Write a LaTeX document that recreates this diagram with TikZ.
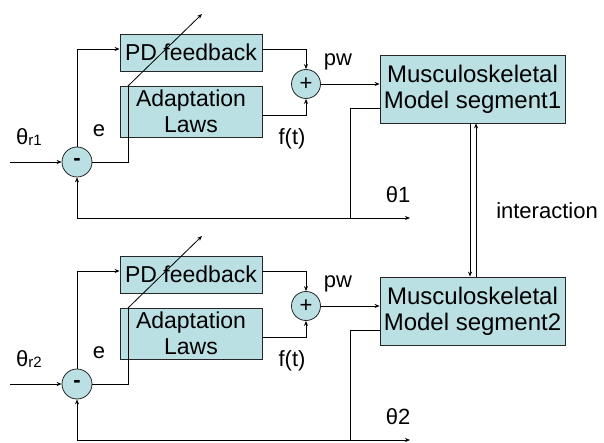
\documentclass[tikz,border=0pt]{standalone}
\usepackage{fontspec}
\setmainfont{Liberation Sans}
\usetikzlibrary{arrows.meta,calc}
\definecolor{boxfill}{RGB}{186,224,228}
\begin{document}
\begin{tikzpicture}[x=1pt,y=-1pt,
  blockbox/.style={draw=black!85, fill=boxfill, line width=0.8pt, inner sep=0pt,
    align=center, font=\fontsize{23}{26}\selectfont},
  modelbox/.style={blockbox, font=\fontsize{24}{26}\selectfont},
  sumnode/.style={circle, draw=black!85, fill=boxfill, line width=0.8pt,
    minimum size=30pt, inner sep=0pt, font=\fontsize{22}{22}\selectfont},
  wire/.style={line width=0.8pt},
  arr/.style={wire, -{Stealth[length=5pt,width=4pt]}},
  lbl/.style={font=\fontsize{22}{24}\selectfont, inner sep=0pt}
]
\useasboundingbox (0,0) rectangle (604,443);

% two identical control loops, one per segment
\foreach \i/\dy in {1/0,2/222}{
  \begin{scope}[yshift=-\dy pt]
    \node[blockbox, minimum width=142pt, minimum height=37pt] (pd\i) at (191,52.5) {PD feedback};
    \node[blockbox, minimum width=142pt, minimum height=51pt] (al\i) at (191,111.5) {Adaptation\\Laws};
    \node[sumnode] (dif\i) at (77,162) {\textbf{-}};
    \node[sumnode, minimum size=29pt] (sum\i) at (306,84) {+};
    \node[modelbox, minimum width=185pt, minimum height=68pt] (msm\i) at (472.5,89)
      {Musculoskeletal\\Model segment\i};

    \coordinate (in\i) at (10,162);
    \coordinate (knee\i) at (128,162);
    \coordinate (hinge\i) at (128,86);
    \coordinate (tune\i) at (202,14);
    \coordinate (tap\i) at (350,218);
    \coordinate (out\i) at (410,218);

    % error path
    \draw[arr] (in\i) -- (dif\i.west);
    \draw[arr] (dif\i.north) |- ($(pd\i.west)+(0,-3.5)$);
    \draw[wire] (dif\i.east) -- (knee\i) -- (hinge\i);
    \draw[arr] (hinge\i) -- (tune\i);

    % controller outputs into the summing junction
    \draw[arr] ($(pd\i.east)+(0,-3.5)$) -| (sum\i.north);
    \draw[arr] ($(al\i.east)+(0,3.5)$) -| (sum\i.south);
    \draw[arr] (sum\i.east) -- (sum\i.east -| msm\i.west);

    % joint angle output and feedback
    \draw[wire] ($(msm\i.west)+(0,19)$) -| (tap\i);
    \draw[arr] (tap\i) -- (out\i);
    \draw[arr] (tap\i) -| (dif\i.south);

    % labels
    \node[lbl] (lbe\i) at (99,131) {e};
    \node[lbl] (lbpw\i) at (338,62) {pw};
    \node[lbl] (lbf\i) at (292,139) {f(t)};
    \node[lbl] (lbth\i) at (398,195) {θ\i};
    \node[lbl] (lbref\i) at (29,137) {θ\raisebox{-1pt}{\fontsize{15}{15}\selectfont r\i}};
  \end{scope}
}

% interaction between the two segments
\draw[arr] ($(msm1.south)+(-2.5,0)$) -- ($(msm2.north)+(-2.5,0)$);
\draw[arr] ($(msm2.north)+(3.5,0)$) -- ($(msm1.south)+(3.5,0)$);
\node[lbl] (lbint) at (547,211) {interaction};
\end{tikzpicture}
\end{document}
